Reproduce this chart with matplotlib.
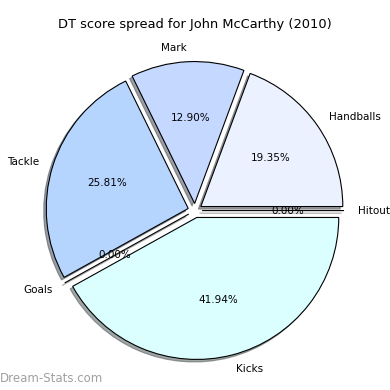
import matplotlib
matplotlib.use("Agg")
import matplotlib.pyplot as plt

# score counts per category (percentages are n/31)
labels = ["Handballs", "Mark", "Tackle", "Goals", "Kicks", "Hitout"]
values = [6, 4, 8, 0, 13, 0]
colors = ["#ebf1ff", "#c5d8ff", "#b5d5ff", "#ffffff", "#dbffff", "#ffffff"]

fig = plt.figure(figsize=(3.9, 3.9), dpi=100)
ax = fig.add_axes([0.045, 0.005, 0.91, 0.91])

explode = [0.05] * len(values)
wedges, texts, autotexts = ax.pie(
    values, labels=labels, colors=colors, explode=explode,
    autopct="%1.2f%%", startangle=0,
    shadow=dict(ox=-0.013, oy=-0.013),
    wedgeprops=dict(edgecolor="black", linewidth=0.8),
    textprops=dict(fontsize=7.5),
)

fig.text(0.5, 0.936, "DT score spread for John McCarthy (2010)",
         ha="center", va="center", fontsize=9.4)
fig.text(0.0, 0.012, "Dream-Stats.com", color="#a0a0a0", fontsize=8.5,
         ha="left", va="bottom")

fig.savefig("out.png", dpi=100)
